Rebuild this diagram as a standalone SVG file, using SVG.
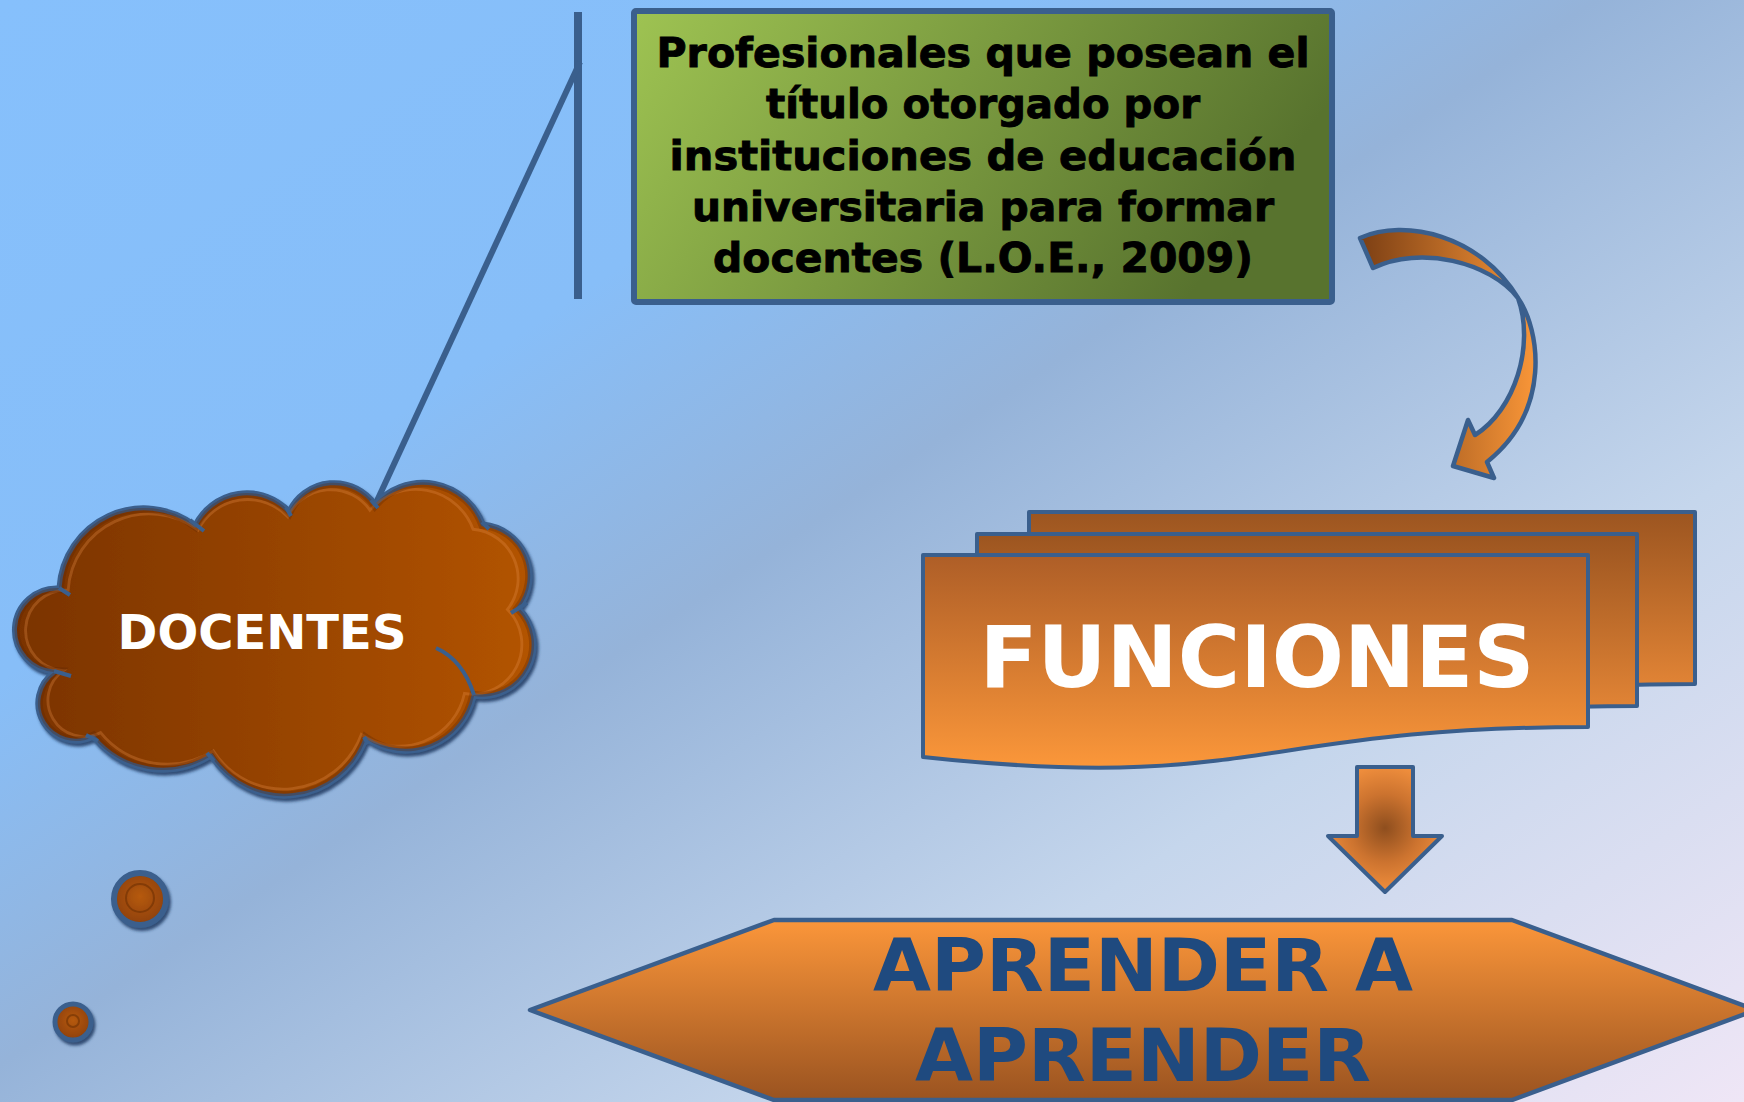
<svg xmlns="http://www.w3.org/2000/svg" width="1744" height="1102" viewBox="0 0 1744 1102">
<defs>
  <linearGradient id="bg" gradientUnits="userSpaceOnUse" x1="0" y1="0" x2="1045" y2="1568">
    <stop offset="0" stop-color="#86C0FC"/>
    <stop offset="0.3" stop-color="#87BEF8"/>
    <stop offset="0.47" stop-color="#95B3D9"/>
    <stop offset="0.72" stop-color="#C5D6EC"/>
    <stop offset="1" stop-color="#EFE6F6"/>
  </linearGradient>
  <linearGradient id="green" x1="0" y1="0" x2="1" y2="0.3">
    <stop offset="0" stop-color="#9EC352"/>
    <stop offset="1" stop-color="#58732E"/>
  </linearGradient>
  <linearGradient id="cloudFill" x1="0" y1="0" x2="1" y2="0">
    <stop offset="0" stop-color="#7A3306"/>
    <stop offset="1" stop-color="#B35405"/>
  </linearGradient>
  <linearGradient id="docBack" x1="0" y1="0" x2="0" y2="1">
    <stop offset="0" stop-color="#9C5520"/>
    <stop offset="1" stop-color="#F08E3A"/>
  </linearGradient>
  <linearGradient id="docFront" x1="0" y1="0" x2="0" y2="1">
    <stop offset="0" stop-color="#AE5E27"/>
    <stop offset="1" stop-color="#FB973A"/>
  </linearGradient>
  <linearGradient id="hexFill" x1="0" y1="0" x2="0" y2="1">
    <stop offset="0" stop-color="#FB963A"/>
    <stop offset="1" stop-color="#9A5320"/>
  </linearGradient>
  <linearGradient id="curveFill" x1="0" y1="0" x2="1" y2="0">
    <stop offset="0" stop-color="#7C3F14"/>
    <stop offset="1" stop-color="#F99638"/>
  </linearGradient>
  <radialGradient id="downFill" gradientUnits="userSpaceOnUse" cx="1385" cy="828" r="62">
    <stop offset="0" stop-color="#8E4E1E"/>
    <stop offset="0.55" stop-color="#CC732F"/>
    <stop offset="1" stop-color="#EE8D3C"/>
  </radialGradient>
  <radialGradient id="dotFill" cx="0.5" cy="0.45" r="0.6">
    <stop offset="0" stop-color="#B65A0E"/>
    <stop offset="1" stop-color="#8A3D06"/>
  </radialGradient>
  <filter id="bevelShadow" x="-10%" y="-10%" width="120%" height="120%">
    <feDropShadow dx="2" dy="3" stdDeviation="1.5" flood-color="#1F3A60" flood-opacity="0.85"/>
  </filter>
  <path id="cloudPath" d="M59,588 A85,85 0 0 1 195,525 A58,58 0 0 1 289,511 A50,50 0 0 1 375,504 A64,64 0 0 1 483,524 A52,52 0 0 1 519,608 A52,52 0 0 1 474,696 A70,70 0 0 1 366,739 A87,87 0 0 1 211,756 A90,90 0 0 1 93,737 A38,38 0 0 1 54,672 A42,42 0 0 1 59,588 Z"/>
  <clipPath id="cloudClip"><use href="#cloudPath"/></clipPath>
  <style>
    .edge { stroke: #3A5F8D; stroke-linejoin: round; }
    .lbl { font-family: "DejaVu Sans", "Liberation Sans", Arial, sans-serif; font-weight: bold; text-anchor: middle; }
    .heavy { stroke: #000000; stroke-width: 0.9; }
    .tick { fill: none; stroke: #3A5F8D; stroke-width: 4; stroke-linecap: butt; }
  </style>
</defs>

<rect x="0" y="0" width="1744" height="1102" fill="url(#bg)"/>

<g id="connectors">
  <line class="edge" x1="578" y1="12" x2="578" y2="299" stroke-width="8"/>
  <line class="edge" x1="580" y1="62" x2="376" y2="503" stroke-width="6"/>
  <path id="curved-arrow" class="edge" stroke-width="4.5" fill="url(#curveFill)" d="M1360,238 C1405,218 1480,235 1518,298 C1540,330 1552,410 1487,462 L1494,478 L1453,466 L1468,420 L1475,435 C1515,410 1535,345 1518,298 C1490,262 1420,245 1373,268 Z"/>
  <path id="down-arrow" class="edge" stroke-width="4" fill="url(#downFill)" d="M1357,767 H1413 V836 H1442 L1385,892 L1328,836 H1357 Z"/>
</g>

<g id="node-definition">
  <rect class="edge" x="634" y="11" width="698" height="291" rx="2" fill="url(#green)" stroke-width="6"/>
  <g class="lbl heavy" font-size="40" fill="#000000">
    <text x="983" y="67" textLength="653" lengthAdjust="spacingAndGlyphs">Profesionales que posean el</text>
    <text x="983" y="118" textLength="434" lengthAdjust="spacingAndGlyphs">título otorgado por</text>
    <text x="983" y="170" textLength="627" lengthAdjust="spacingAndGlyphs">instituciones de educación</text>
    <text x="983" y="221" textLength="582" lengthAdjust="spacingAndGlyphs">universitaria para formar</text>
    <text x="983" y="272" textLength="540" lengthAdjust="spacingAndGlyphs">docentes (L.O.E., 2009)</text>
  </g>
</g>

<g id="node-docentes">
  <g filter="url(#bevelShadow)">
    <use href="#cloudPath" class="edge" fill="url(#cloudFill)" stroke-width="5"/>
  </g>
  <g clip-path="url(#cloudClip)">
    <use href="#cloudPath" fill="none" stroke="#E8904A" stroke-opacity="0.3" stroke-width="3" transform="translate(262 640) scale(0.955) translate(-262 -640)"/>
    <use href="#cloudPath" fill="none" stroke="#5A2603" stroke-opacity="0.3" stroke-width="10"/>
  </g>
  <path class="tick" d="M59,588 L70,595 M190,520 L204,531 M286,507 L291,516 M371,500 L378,508 M482,522 L489,529 M511,613 L527,603 M364,737 L368,744 M207,753 L214,761 M86,735 L98,741 M54,671 L71,676"/>
  <path class="tick" d="M436,648 Q463,660 474,695"/>
  <text class="lbl" x="262" y="649" font-size="48" fill="#FFFFFF">DOCENTES</text>
  <g filter="url(#bevelShadow)">
    <circle class="edge" cx="140" cy="899" r="26" fill="url(#dotFill)" stroke-width="6"/>
    <circle class="edge" cx="73" cy="1022" r="18" fill="url(#dotFill)" stroke-width="5"/>
  </g>
  <circle cx="140" cy="898" r="14" fill="none" stroke="#6E3004" stroke-width="2" stroke-opacity="0.6"/>
  <circle cx="73" cy="1021" r="6" fill="none" stroke="#6E3004" stroke-width="2" stroke-opacity="0.6"/>
</g>

<g id="node-funciones">
  <path class="edge" stroke-width="4" fill="url(#docBack)" d="M1029,512 H1695 V684 C1362,684 1362,750 1029,713 Z"/>
  <path class="edge" stroke-width="4" fill="url(#docBack)" d="M977,534 H1637 V706 C1307,706 1307,772 977,734 Z"/>
  <path class="edge" stroke-width="4" fill="url(#docFront)" d="M923,555 H1588 V727 C1255,727 1255,793 923,757 Z"/>
  <text class="lbl" x="1257" y="687" font-size="85" fill="#FFFFFF">FUNCIONES</text>
</g>

<g id="node-aprender">
  <path class="edge" stroke-width="4.5" fill="url(#hexFill)" d="M774,920 H1512 L1756,1010 L1512,1100 H774 L530,1010 Z"/>
  <g class="lbl" font-size="73" fill="#1F4A7F">
    <text x="1143" y="991" textLength="540" lengthAdjust="spacingAndGlyphs">APRENDER A</text>
    <text x="1143" y="1081" textLength="456" lengthAdjust="spacingAndGlyphs">APRENDER</text>
  </g>
</g>
</svg>
